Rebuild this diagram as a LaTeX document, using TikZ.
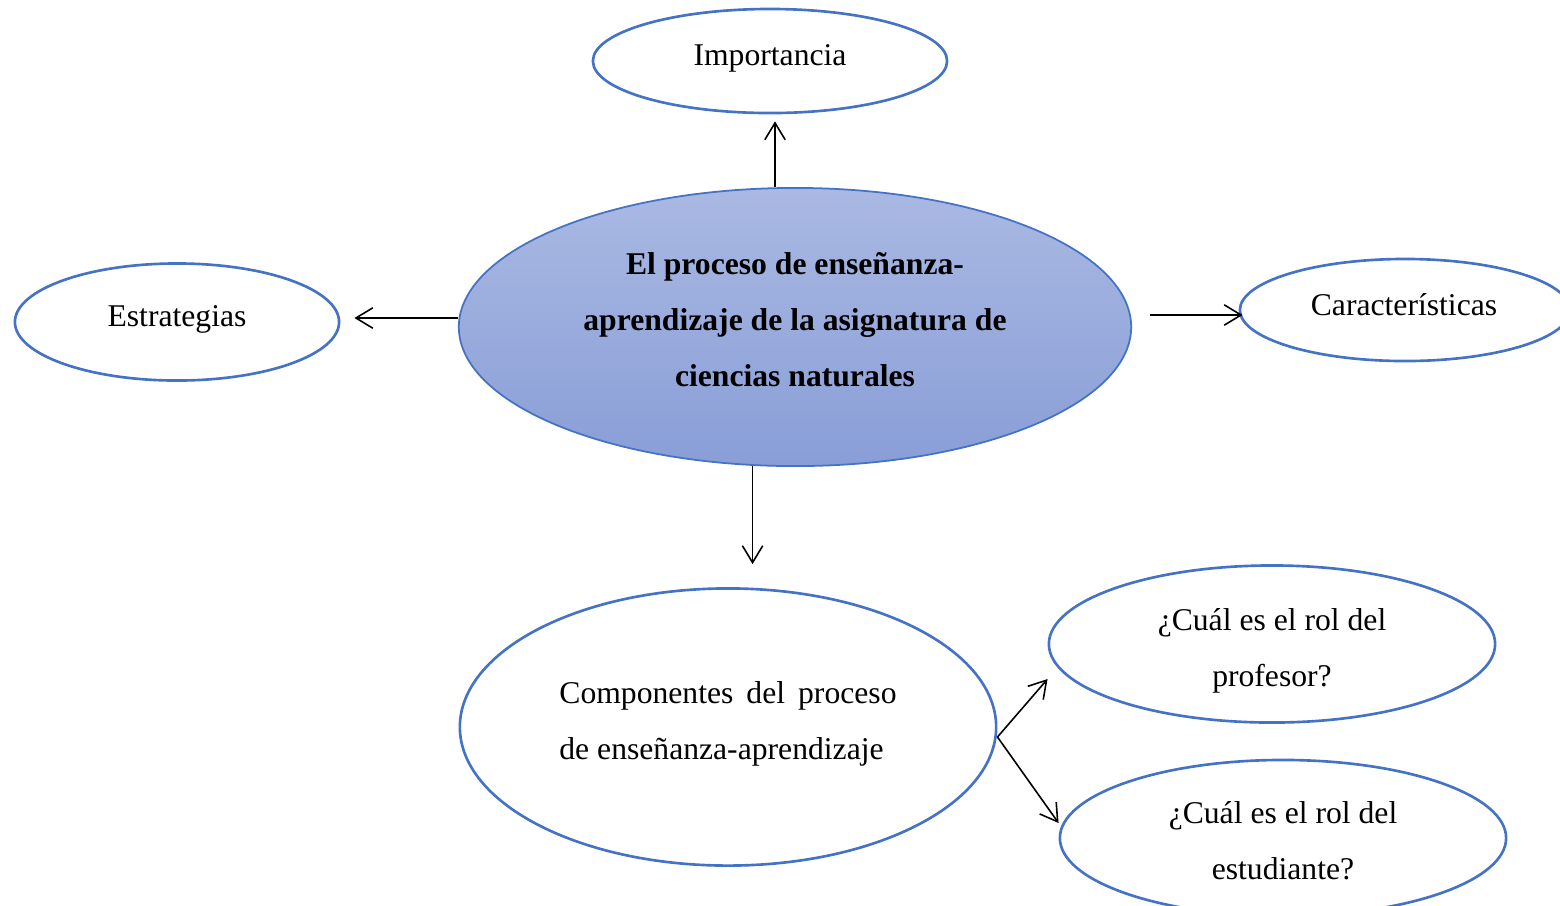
\documentclass[tikz,border=0pt]{standalone}
\usepackage{fontspec}
\setmainfont{Liberation Serif}
\usetikzlibrary{shapes.geometric,arrows.meta}
\definecolor{borde}{RGB}{68,114,196}
\definecolor{azulsup}{RGB}{170,185,227}
\definecolor{azulinf}{RGB}{137,158,215}

\begin{document}
\begin{tikzpicture}[x=0.01cm,y=-0.01cm,
  elipse/.style={ellipse,draw=borde,line width=0.75pt,inner sep=0pt},
  central/.style={elipse,line width=0.5pt,top color=azulsup,bottom color=azulinf},
  texto/.style={align=center,inner sep=0pt,font=\fontsize{9}{15.9}\selectfont},
  flecha/.style={line width=0.45pt,-{Straight Barb[length=4.8pt,width=5.8pt]}}]
  \useasboundingbox (0,0) rectangle (1560,905);
  % elipses
  \node[central,minimum width=6.72cm,minimum height=2.78cm] (centro) at (795,327) {};
  \node[elipse,minimum width=3.54cm,minimum height=1.04cm] (imp) at (770,61) {};
  \node[elipse,minimum width=3.24cm,minimum height=1.17cm] (est) at (177,322) {};
  \node[elipse,minimum width=3.30cm,minimum height=1.02cm] (car) at (1405,310) {};
  \node[elipse,minimum width=5.36cm,minimum height=2.77cm] (comp) at (728,727) {};
  \node[elipse,minimum width=4.46cm,minimum height=1.57cm] (prof) at (1272,644) {};
  \node[elipse,minimum width=4.46cm,minimum height=1.56cm] (estu) at (1283,838) {};
  % textos
  \node[texto,font=\fontsize{9}{15.9}\selectfont\bfseries] (centrot) at ([yshift=0.07cm]centro)
    {El proceso de enseñanza-\\aprendizaje de la asignatura de\\ciencias naturales};
  \node[texto] (impt) at ([yshift=0.03cm]imp) {Importancia};
  \node[texto] (estt) at ([yshift=0.03cm]est) {Estrategias};
  \node[texto] (cart) at ([xshift=-0.01cm,yshift=0.05cm]car) {Características};
  \node[texto,align=left] (compt) at ([yshift=0.03cm]comp)
    {\makebox[3.37cm][s]{Componentes del proceso}\\de enseñanza-aprendizaje};
  \node[texto] (proft) at ([yshift=-0.07cm]prof) {¿Cuál es el rol del\\profesor?};
  \node[texto] (estut) at ([yshift=-0.03cm]estu) {¿Cuál es el rol del\\estudiante?};
  % flechas
  \draw[flecha,shorten >=0.07cm] ([xshift=0.05cm]centro.north -| imp.south) -- ([xshift=0.05cm]imp.south);
  \draw[flecha,shorten >=0.14cm] ([yshift=0.04cm]centro.west |- est.east) -- ([yshift=0.04cm]est.east);
  \draw[flecha,shorten <=0.18cm] ([yshift=-0.05cm]centro.east |- car.west) -- ([xshift=0.04cm,yshift=-0.05cm]car.west);
  \draw[flecha,shorten >=0.23cm] (centro.253) -- (centro.253 |- comp.north);
  \draw[flecha] ([yshift=-0.1cm]comp.east) -- ([yshift=-0.35cm]prof.west);
  \draw[flecha] ([yshift=-0.1cm]comp.east) -- ([yshift=0.15cm]estu.west);
\end{tikzpicture}
\end{document}
